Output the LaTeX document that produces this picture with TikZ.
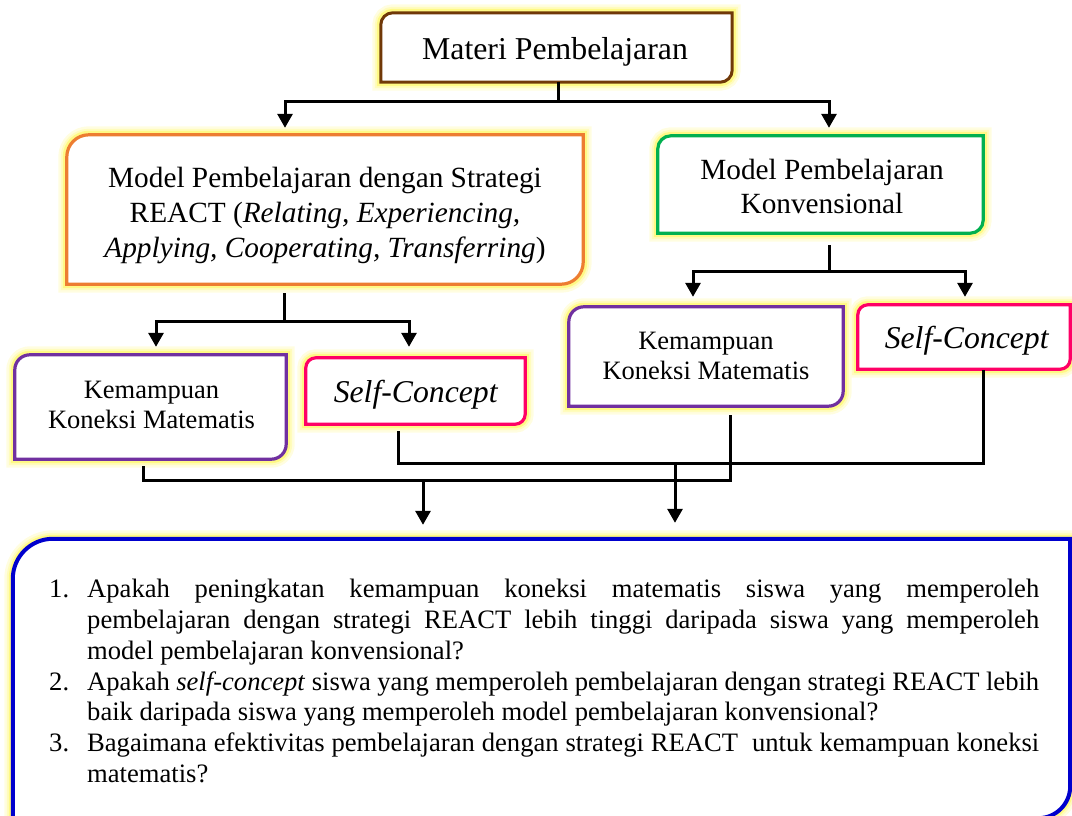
\documentclass[tikz,border=0pt]{standalone}
\usepackage{fontspec}
\setmainfont{Liberation Serif}
\usetikzlibrary{arrows.meta,backgrounds,calc}
\definecolor{cbrown}{RGB}{112,56,8}
\definecolor{corange}{RGB}{237,125,49}
\definecolor{cgreen}{RGB}{0,176,80}
\definecolor{cpurple}{RGB}{112,48,160}
\definecolor{cpink}{RGB}{255,0,102}
\definecolor{cblue}{RGB}{0,0,205}
\tikzset{
  glowfx/.style={preaction={draw=yellow!12,line width=17pt},
                 preaction={draw=yellow!26,line width=12pt},
                 preaction={draw=yellow!48,line width=8pt}},
  shapebox/.style={inner sep=0pt, draw=none},
  lbl/.style={inner sep=0pt, align=center},
  conn/.style={line width=3pt, black},
  arr/.style={conn, -{Triangle[width=15pt,length=14pt]}},
}
\newcommand\diagframe[4]{%
  \path[glowfx, draw=#2, line width=#4, fill=white]
    (#1.south west) -- ([yshift=-#3]#1.north west)
    arc[start angle=180,end angle=90,radius=#3]
    -- (#1.north east) -- ([yshift=#3]#1.south east)
    arc[start angle=0,end angle=-90,radius=#3] -- cycle;}
\begin{document}
\begin{tikzpicture}[x=1pt,y=1pt]
\useasboundingbox (0,0) rectangle (1072,-816);
% shape nodes
\node[shapebox, minimum width=351pt, minimum height=69pt] (top) at (556.5,-47.5) {};
\node[shapebox, minimum width=516pt, minimum height=149pt] (or) at (325,-209.5) {};
\node[shapebox, minimum width=325pt, minimum height=97pt] (gr) at (820.5,-184.5) {};
\node[shapebox, minimum width=271pt, minimum height=104pt] (pl) at (150.5,-407) {};
\node[shapebox, minimum width=219pt, minimum height=66pt] (pk) at (415.5,-391) {};
\node[shapebox, minimum width=274pt, minimum height=99pt] (pr) at (706,-356.5) {};
\node[shapebox, minimum width=212pt, minimum height=64pt] (pkr) at (964,-337) {};
\node[shapebox, minimum width=1057pt, minimum height=279pt] (bq) at (541.5,-678.5) {};
% frames
\begin{scope}[on background layer]
  \diagframe{top}{cbrown}{12pt}{3pt}
  \diagframe{or}{corange}{22pt}{3.2pt}
  \diagframe{gr}{cgreen}{13pt}{3.2pt}
  \diagframe{pl}{cpurple}{15pt}{3.2pt}
  \diagframe{pk}{cpink}{10pt}{3.2pt}
  \diagframe{pr}{cpurple}{15pt}{3.2pt}
  \diagframe{pkr}{cpink}{10pt}{3.2pt}
  \path[glowfx, draw=cblue, line width=4pt, fill=white]
    (bq.south west) -- ([yshift=-40pt]bq.north west)
    arc[start angle=180,end angle=90,radius=40pt]
    -- (bq.north east) -- ([yshift=32pt]bq.south east)
    arc[start angle=0,end angle=-90,radius=32pt] -- cycle;
\end{scope}
% labels
\node[lbl, anchor=base, font=\fontsize{31.8pt}{36pt}\selectfont] (topT) at (555,-60) {Materi Pembelajaran};
\node[lbl, font=\fontsize{29.3pt}{35pt}\selectfont] (orT) at (325,-215.5)
  {Model Pembelajaran dengan Strategi\\REACT (\textit{Relating, Experiencing,}\\\textit{Applying, Cooperating, Transferring})};
\node[lbl, font=\fontsize{29.3pt}{34pt}\selectfont] (grT) at (822,-186)
  {Model Pembelajaran\\Konvensional};
\node[lbl, font=\fontsize{26.5pt}{30pt}\selectfont] (plT) at (151.5,-405)
  {Kemampuan\\Koneksi Matematis};
\node[lbl, anchor=base, font=\fontsize{31.7pt}{36pt}\selectfont] (pkT) at (416,-402) {\textit{Self-Concept}};
\node[lbl, font=\fontsize{26.5pt}{30pt}\selectfont] (prT) at (706,-355.7)
  {Kemampuan\\Koneksi Matematis};
\node[lbl, anchor=base, font=\fontsize{31.7pt}{36pt}\selectfont] (pkrT) at (967,-348) {\textit{Self-Concept}};
\node[anchor=north west, inner sep=0pt, text width=990pt, align=justify,
      font=\fontsize{26.6pt}{30.8pt}\selectfont] (qs) at (49,-579) {%
\hangindent=38pt\hangafter=1\noindent\makebox[38pt][l]{1.}Apakah peningkatan kemampuan koneksi matematis siswa yang memperoleh\linebreak pembelajaran dengan strategi REACT lebih tinggi daripada siswa yang memperoleh\linebreak model pembelajaran konvensional?\par
\hangindent=38pt\hangafter=1\noindent\makebox[38pt][l]{2.}Apakah \textit{self-concept} siswa yang memperoleh pembelajaran dengan strategi REACT lebih\linebreak baik daripada siswa yang memperoleh model pembelajaran konvensional?\par
\hangindent=38pt\hangafter=1\noindent\makebox[38pt][l]{3.}Bagaimana efektivitas pembelajaran dengan strategi REACT~\ untuk kemampuan koneksi\linebreak matematis?\par};
% connectors
\draw[conn] ([xshift=1.5pt]top.south) -- ++(0,-19) coordinate (j1);
\draw[arr] (j1) -| ([xshift=-40pt,yshift=7pt]or.north);
\draw[arr] (j1) -| ([xshift=8.5pt,yshift=8pt]gr.north);
\draw[conn] ([xshift=-41pt,yshift=-9pt]or.south) -- ++(0,-28) coordinate (j2);
\draw[arr] (j2) -| ([xshift=5.5pt,yshift=8pt]pl.north);
\draw[arr] (j2) -| ([xshift=-6.5pt,yshift=11pt]pk.north);
\draw[conn] ([xshift=8.5pt,yshift=-12pt]gr.south) -- ++(0,-26) coordinate (j3);
\draw[arr] (j3) -| ([xshift=-13pt,yshift=10pt]pr.north);
\draw[arr] (j3) -| ([xshift=1pt,yshift=8pt]pkr.north);
\draw[conn] ([xshift=-7.5pt,yshift=-7pt]pl.south) -- ++(0,-14) coordinate (pj) -| ([xshift=24pt,yshift=-9pt]pr.south);
\draw[conn] ([xshift=-17.5pt,yshift=-7pt]pk.south) -- ++(0,-32) coordinate (kj) -| ([xshift=19pt,yshift=-1pt]pkr.south);
\coordinate (a1) at ([xshift=-118.5pt,yshift=14pt]bq.north);
\coordinate (a2) at ([xshift=133.5pt,yshift=16pt]bq.north);
\draw[arr] (a1 |- pj) -- (a1);
\draw[arr] (a2 |- kj) -- (a2);
\end{tikzpicture}
\end{document}
